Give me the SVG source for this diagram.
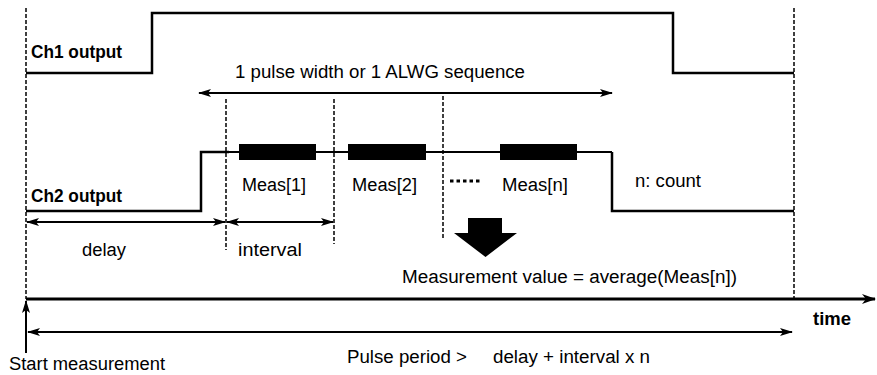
<svg xmlns="http://www.w3.org/2000/svg" width="877" height="375" viewBox="0 0 877 375">
<defs>
<marker id="ah" markerUnits="userSpaceOnUse" markerWidth="13" markerHeight="10" refX="12" refY="5" orient="auto-start-reverse">
<path d="M0,1 L13,5 L0,9 L3,5 z" fill="#000"/>
</marker>
<marker id="ahBig" markerUnits="userSpaceOnUse" markerWidth="14" markerHeight="12" refX="13" refY="6" orient="auto">
<path d="M0,1 L14,6 L0,11 L4,6 z" fill="#000"/>
</marker>
<style>
.sig{fill:none;stroke:#000;stroke-width:2.5}
.thin{fill:none;stroke:#000;stroke-width:2}
.dash{fill:none;stroke:#000;stroke-width:1.5;stroke-dasharray:4,2}
.arr{fill:none;stroke:#000;stroke-width:2;marker-start:url(#ah);marker-end:url(#ah)}
.t{font-family:"Liberation Sans",Arial,sans-serif;font-size:18px;fill:#000}
.b{font-family:"Liberation Sans",Arial,sans-serif;font-size:18px;font-weight:bold;fill:#000}
</style>
</defs>
<rect width="877" height="375" fill="#fff"/>

<g id="guides">
<line class="dash" x1="26" y1="8" x2="26" y2="299"/>
<line class="dash" x1="794" y1="8" x2="794" y2="299"/>
<line class="dash" x1="226" y1="99" x2="226" y2="250"/>
<line class="dash" x1="334" y1="99" x2="334" y2="244"/>
<line class="dash" x1="443" y1="96" x2="443" y2="240"/>
</g>

<g id="ch1">
<polyline class="sig" points="26,73 152,73 152,13 673,13 673,73 794,73"/>
<text class="b" x="31" y="58" textLength="91" lengthAdjust="spacingAndGlyphs">Ch1 output</text>
</g>

<g id="ch2">
<polyline class="sig" points="26,211 201,211 201,152 229,152"/>
<line class="thin" x1="229" y1="152" x2="612" y2="152"/>
<polyline class="sig" points="612,152 612,211 794,211"/>
<text class="b" x="31" y="202" textLength="91" lengthAdjust="spacingAndGlyphs">Ch2 output</text>
</g>

<g id="meas1">
<rect x="239" y="144" width="77" height="16" fill="#000"/>
<text class="t" x="242" y="191" textLength="64" lengthAdjust="spacingAndGlyphs">Meas[1]</text>
</g>
<g id="meas2">
<rect x="348" y="144" width="78" height="16" fill="#000"/>
<text class="t" x="352" y="191" textLength="65" lengthAdjust="spacingAndGlyphs">Meas[2]</text>
</g>
<g id="measn">
<rect x="500" y="144" width="77" height="16" fill="#000"/>
<text class="t" x="502" y="191" textLength="66" lengthAdjust="spacingAndGlyphs">Meas[n]</text>
</g>
<g id="ellipsis">
<line x1="450" y1="181" x2="481" y2="181" stroke="#000" stroke-width="3" stroke-dasharray="3.5,3"/>
</g>
<g id="count">
<text class="t" x="635" y="187" textLength="66" lengthAdjust="spacingAndGlyphs">n: count</text>
</g>

<g id="connectors">
<line class="arr" x1="199" y1="93" x2="612" y2="93"/>
<line class="arr" x1="27" y1="222" x2="225" y2="222"/>
<line class="arr" x1="227" y1="222" x2="333" y2="222"/>
<line class="arr" x1="28" y1="332" x2="792" y2="332"/>
<line x1="26" y1="299" x2="875" y2="299" stroke="#000" stroke-width="3" marker-end="url(#ahBig)"/>
<line x1="26" y1="353" x2="26" y2="301" stroke="#000" stroke-width="2" marker-end="url(#ah)"/>
<polygon points="468,218 502,218 502,233 517,233 485.5,257 454,233 468,233" fill="#000"/>
</g>

<g id="labels">
<text class="t" x="235" y="78" textLength="290" lengthAdjust="spacingAndGlyphs">1 pulse width or 1 ALWG sequence</text>
<text class="t" x="82" y="256" textLength="44" lengthAdjust="spacingAndGlyphs">delay</text>
<text class="t" x="238" y="256" textLength="64" lengthAdjust="spacingAndGlyphs">interval</text>
<text class="t" x="402" y="283" textLength="335" lengthAdjust="spacingAndGlyphs">Measurement value = average(Meas[n])</text>
<text class="b" x="813" y="325" textLength="38" lengthAdjust="spacingAndGlyphs">time</text>
<text class="t" x="347" y="363" textLength="120" lengthAdjust="spacingAndGlyphs">Pulse period &gt;</text>
<text class="t" x="493" y="363" textLength="157" lengthAdjust="spacingAndGlyphs">delay + interval x n</text>
<text class="t" x="9" y="370" textLength="156" lengthAdjust="spacingAndGlyphs">Start measurement</text>
</g>
</svg>
